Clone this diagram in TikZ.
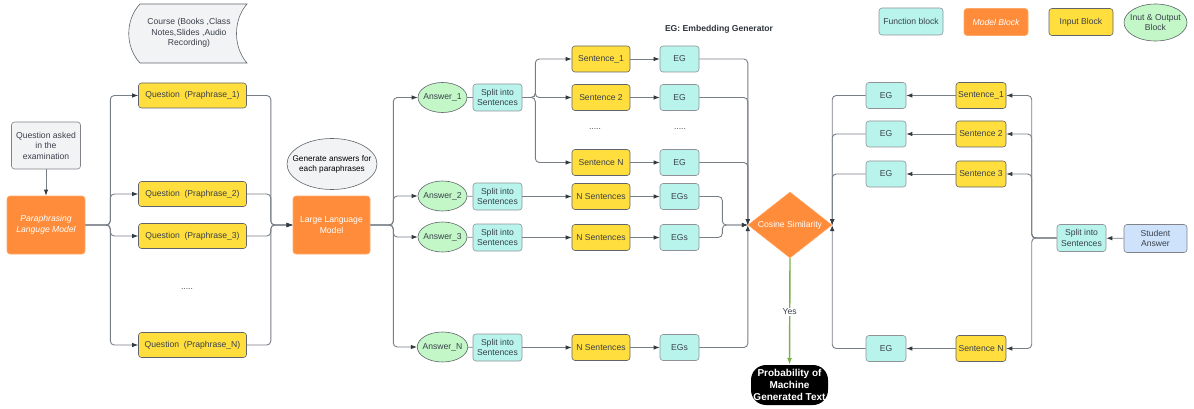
\documentclass[tikz,border=0pt]{standalone}
\usepackage{fontspec}
\setmainfont{Liberation Sans}
\usetikzlibrary{arrows.meta,shapes.geometric}
\definecolor{modelorange}{RGB}{255,140,58}
\definecolor{inputyellow}{RGB}{255,222,62}
\definecolor{funccyan}{RGB}{184,244,236}
\definecolor{iogreen}{RGB}{195,247,200}
\definecolor{notegray}{RGB}{242,243,245}
\definecolor{studentblue}{RGB}{207,226,252}
\definecolor{txtgray}{RGB}{58,65,74}
\definecolor{boxline}{RGB}{96,100,106}
\definecolor{linegray}{RGB}{120,126,134}
\definecolor{tipgray}{RGB}{52,58,66}
\definecolor{yesgreen}{RGB}{122,176,72}
\newcommand\basefont{\fontsize{8.6}{10.5}\selectfont}
\tikzset{
	box/.style={draw=boxline, line width=0.6pt, rounded corners=3pt, align=center, inner sep=0pt, text=txtgray},
	inputbox/.style={box, fill=inputyellow},
	funcbox/.style={box, fill=funccyan, draw=boxline!70},
	notebox/.style={box, fill=notegray, draw=boxline!80},
	modelbox/.style={box, fill=modelorange, draw=modelorange!75!white, text=white},
	iobox/.style={ellipse, draw=boxline, line width=0.6pt, fill=iogreen, text=txtgray, align=center, inner xsep=-2pt, inner ysep=0pt},
	conn/.style={draw=linegray, line width=0.9pt, rounded corners=4pt},
	arr/.style={conn, -{Latex[length=6pt, width=4.5pt, color=tipgray]}},
}

\begin{document}
\begin{tikzpicture}[x=1pt, y=-1pt, font=\basefont]
		%%%%% START %%%%%
		\useasboundingbox (0,0) rectangle (1194,409);
		
		% course material
		\draw[fill=notegray, draw=boxline, line width=0.6pt] (140,4) -- (247,4) .. controls (233,20) and (233,47) .. (247,63) -- (140,63) .. controls (125,47) and (125,20) .. (140,4);
		\node[align=center, text=txtgray] (course) at (189,33) {Course (Books ,Class\\Notes,Slides ,Audio\\Recording)};
		
		% question side
		\node[notebox, minimum width=69pt, minimum height=47pt] (ask) at (46,145.5) {Question asked\\in the\\examination};
		\node[modelbox, font=\basefont\itshape, minimum width=78pt, minimum height=58pt] (plm) at (46,225) {Paraphrasing\\Languge Model};
		
		\node[inputbox, minimum width=108pt, minimum height=25pt] (q1) at (192.5,95.5) {Question\ \ (Praphrase\_1)};
		\node[inputbox, minimum width=108pt, minimum height=25pt] (q2) at (192.5,194) {Question\ \ (Praphrase\_2)};
		\node[inputbox, minimum width=108pt, minimum height=25pt] (q3) at (192.5,236) {Question\ \ (Praphrase\_3)};
		\node[inputbox, minimum width=108pt, minimum height=25pt] (qn) at (192.5,345) {Question\ \ (Praphrase\_N)};
		\node[text=txtgray] (qdots) at (187,289) {.....};
		
		\node[modelbox, minimum width=77pt, minimum height=58pt] (llm) at (331.5,225) {Large Language\\Model};
		\node[ellipse, draw=boxline, line width=0.6pt, fill=notegray, align=center, font=\fontsize{8.2}{10}\selectfont, inner xsep=-8pt, inner ysep=0pt, minimum width=90pt, minimum height=51pt] (gen) at (332,164) {Generate answers for\\each paraphrases};
		
		\draw[arr] (ask) -- (plm);
		\draw[arr] (plm.east) -- ++(25,0) |- (q1.west);
		\draw[arr] (plm.east) -- ++(25,0) |- (q2.west);
		\draw[arr] (plm.east) -- ++(25,0) |- (q3.west);
		\draw[arr] (plm.east) -- ++(25,0) |- (qn.west);
		\draw[arr] (q1.east) -- ++(24,0) |- (llm.west);
		\draw[arr] (q2.east) -- ++(24,0) |- (llm.west);
		\draw[arr] (q3.east) -- ++(24,0) |- (llm.west);
		\draw[arr] (qn.east) -- ++(24,0) |- (llm.west);
		
		% answers
		\node[iobox, minimum width=49pt, minimum height=30pt] (a1) at (442.5,97.5) {Answer\_1};
		\node[iobox, minimum width=49pt, minimum height=30pt] (a2) at (442.5,196) {Answer\_2};
		\node[iobox, minimum width=49pt, minimum height=30pt] (a3) at (442.5,237) {Answer\_3};
		\node[iobox, minimum width=49pt, minimum height=30pt] (an) at (442.5,347) {Answer\_N};
		
		\node[funcbox, minimum width=49pt, minimum height=27pt] (sp1) at (497.5,97.5) {Split into\\Sentences};
		\node[funcbox, minimum width=49pt, minimum height=27pt] (sp2) at (497.5,196.5) {Split into\\Sentences};
		\node[funcbox, minimum width=49pt, minimum height=27pt] (sp3) at (497.5,237.5) {Split into\\Sentences};
		\node[funcbox, minimum width=49pt, minimum height=27pt] (spn) at (497.5,347.5) {Split into\\Sentences};
		
		\node[inputbox, minimum width=58pt, minimum height=26pt] (s1) at (601,59) {Sentence\_1};
		\node[inputbox, minimum width=58pt, minimum height=26pt] (s2) at (601,97.5) {Sentence 2};
		\node[inputbox, minimum width=58pt, minimum height=26pt] (sn) at (601,162.5) {Sentence N};
		\node[inputbox, minimum width=58pt, minimum height=26pt] (ns2) at (601,196.5) {N Sentences};
		\node[inputbox, minimum width=58pt, minimum height=26pt] (ns3) at (601,237.5) {N Sentences};
		\node[inputbox, minimum width=58pt, minimum height=26pt] (nsn) at (601,347.5) {N Sentences};
		\node[text=txtgray] (sdots) at (595,129) {.....};
		
		\node[funcbox, minimum width=39pt, minimum height=26pt] (eg1) at (679.5,59) {EG};
		\node[funcbox, minimum width=39pt, minimum height=26pt] (eg2) at (679.5,97.5) {EG};
		\node[funcbox, minimum width=39pt, minimum height=26pt] (egn) at (679.5,162.5) {EG};
		\node[funcbox, minimum width=39pt, minimum height=26pt] (egs2) at (679.5,196.5) {EGs};
		\node[funcbox, minimum width=39pt, minimum height=26pt] (egs3) at (679.5,237.5) {EGs};
		\node[funcbox, minimum width=39pt, minimum height=26pt] (egsn) at (679.5,347.5) {EGs};
		\node[text=txtgray] (edots) at (680,129) {.....};
		
		\node[font=\basefont\bfseries, text=txtgray!80!black] (egnote) at (719,29) {EG: Embedding Generator};
		
		\draw[arr] (llm.east) -- ++(23,0) |- (a1.west);
		\draw[arr] (llm.east) -- ++(23,0) |- (a2.west);
		\draw[arr] (llm.east) -- ++(23,0) |- (a3.west);
		\draw[arr] (llm.east) -- ++(23,0) |- (an.west);
		\draw[conn] (a1) -- (sp1);
		\draw[conn] (a2) -- (sp2);
		\draw[conn] (a3) -- (sp3);
		\draw[conn] (an) -- (spn);
		
		\draw[arr] (sp1.east) -- ++(13,0) |- (s1.west);
		\draw[arr] (sp1.east) -- ++(13,0) |- (s2.west);
		\draw[arr] (sp1.east) -- ++(13,0) |- (sn.west);
		\draw[arr] (sp2) -- (ns2);
		\draw[arr] (sp3) -- (ns3);
		\draw[arr] (spn) -- (nsn);
		\draw[arr] (s1) -- (eg1);
		\draw[arr] (s2) -- (eg2);
		\draw[arr] (sn) -- (egn);
		\draw[arr] (ns2) -- (egs2);
		\draw[arr] (ns3) -- (egs3);
		\draw[arr] (nsn) -- (egsn);
		
		% similarity and result
		\node[diamond, aspect=1.27, fill=modelorange, draw=modelorange!75!white, text=white, inner sep=0pt, minimum width=84pt, minimum height=66pt] (cos) at (790,225) {Cosine Similarity};
		\node[fill=black, rounded corners=15pt, text=white, align=center, inner sep=0pt, font=\fontsize{10}{11.6}\selectfont\bfseries, minimum width=77pt, minimum height=40pt] (prob) at (789.5,385) {Probability of\\Machine\\Generated Text};
		
		\draw[arr] (eg1.east) -| (cos.west);
		\draw[arr] (eg2.east) -| (cos.west);
		\draw[arr] (egn.east) -| (cos.west);
		\draw[arr] (egsn.east) -| (cos.west);
		\draw[arr] (egs2.east) -- ++(23,0) |- (cos.west);
		\draw[arr] (egs3.east) -- ++(23,0) |- (cos.west);
		
		\draw[draw=yesgreen, line width=1.4pt, -{Latex[length=7pt, width=5pt]}] (cos.south) -- node[fill=white, text=txtgray, inner sep=1pt] (yes) {Yes} (prob.north);
		
		% student side
		\node[box, fill=studentblue, draw=boxline!80, minimum width=63pt, minimum height=28pt] (stud) at (1155.5,238.5) {Student\\Answer};
		\node[funcbox, minimum width=49pt, minimum height=27pt] (spr) at (1081.5,238) {Split into\\Sentences};
		
		\node[inputbox, minimum width=50pt, minimum height=26pt] (sr1) at (981,95.5) {Sentence\_1};
		\node[inputbox, minimum width=50pt, minimum height=26pt] (sr2) at (981,134) {Sentence 2};
		\node[inputbox, minimum width=50pt, minimum height=26pt] (sr3) at (981,174) {Sentence 3};
		\node[inputbox, minimum width=50pt, minimum height=26pt] (srn) at (981,348.5) {Sentence N};
		
		\node[funcbox, minimum width=40pt, minimum height=26pt] (egr1) at (886,95.5) {EG};
		\node[funcbox, minimum width=40pt, minimum height=26pt] (egr2) at (886,134) {EG};
		\node[funcbox, minimum width=40pt, minimum height=26pt] (egr3) at (886,174) {EG};
		\node[funcbox, minimum width=40pt, minimum height=26pt] (egrn) at (886,348.5) {EG};
		
		\draw[arr] (stud) -- (spr);
		\draw[arr] (spr.west) -- ++(-25,0) |- (sr1.east);
		\draw[arr] (spr.west) -- ++(-25,0) |- (sr2.east);
		\draw[arr] (spr.west) -- ++(-25,0) |- (sr3.east);
		\draw[arr] (spr.west) -- ++(-25,0) |- (srn.east);
		\draw[arr] (sr1) -- (egr1);
		\draw[arr] (sr2) -- (egr2);
		\draw[arr] (sr3) -- (egr3);
		\draw[arr] (srn) -- (egrn);
		\draw[arr] (egr1.west) -| (cos.east);
		\draw[arr] (egr2.west) -| (cos.east);
		\draw[arr] (egr3.west) -| (cos.east);
		\draw[arr] (egrn.west) -| (cos.east);
		
		% legend
		\node[funcbox, minimum width=64pt, minimum height=27pt] (legfunc) at (911,21.5) {Function block};
		\node[modelbox, font=\basefont\itshape, minimum width=64pt, minimum height=27pt] (legmodel) at (996,22) {Model Block};
		\node[inputbox, minimum width=64pt, minimum height=27pt] (leginput) at (1081,22) {Input Block};
		\node[iobox, inner xsep=-3.5pt, minimum width=63pt, minimum height=37pt] (legio) at (1155.5,22.5) {Inut \& Output\\Block};
		
		%%%%% END %%%%%
\end{tikzpicture}
\end{document}
